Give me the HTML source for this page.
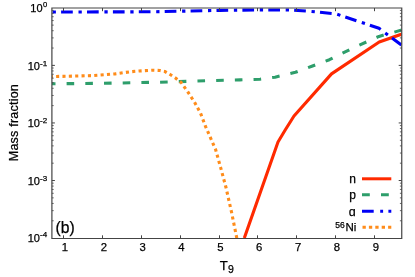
<!DOCTYPE html>
<html><head><meta charset="utf-8">
<style>
html,body{margin:0;padding:0;background:#fff;}
svg{display:block;will-change:transform;}
text{font-family:"Liberation Sans",sans-serif;fill:#000;stroke:#000;stroke-width:0.25px;}
</style></head><body>
<svg width="415" height="277" viewBox="0 0 415 277">
<rect width="415" height="277" fill="#fff"/>
<defs><clipPath id="c"><rect x="51.9" y="7.8" width="349.8" height="230.29999999999998"/></clipPath></defs>
<g fill="none" stroke-width="3.1" stroke-linejoin="round" clip-path="url(#c)">
<path d="M244.3,238.1 L278,142 L285.2,130 L294,116 L331.5,73.9 L379.2,42 L402,34" stroke="#ff2a00"/>
<path d="M51.9,83.8 L104,83.3 L160,82.2 L208,80.7 L240,79.9 L260,79.2 L275,77.2 L295.4,72.3 L311.8,66.2 L329.4,59.7 L355,47 L379,36.4 L402,30" stroke="#2e9e6b" stroke-dasharray="7.6 11.1" stroke-dashoffset="4"/>
<path d="M51.9,12 L150,11.8 L220,10.4 L258,9.9 L290,10 L311,11.4 L336,13.9 L379,28.3 L402,45.5" stroke="#0000f5" stroke-dasharray="11.7 5.7 3.3 5.2" stroke-dashoffset="16.7"/>
<path d="M51.9,76.6 L93.4,75.6 L115,73.9 L130,71.8 L139,71 L151.7,70.2 L160,70.5 L164.7,71.4 L170.1,74.5 L175.5,78 L181,82.3 L188.6,93 L195.1,103.2 L200.5,113.1 L205.6,126.6 L215.6,149.5 L220.8,168.2 L226,187.5 L231.6,212.5 L236.8,238.1" stroke="#ff8c1a" stroke-dasharray="3.1 3.262" stroke-dashoffset="2.16"/>
</g>

<g stroke="#444" stroke-width="1.2" fill="none">
<path d="M51.3,8 H402.35 M51.3,238.5 H402.35 M51.9,7.4 V239.1 M401.75,7.4 V239.1"/>
</g>
<g stroke="#444" stroke-width="1" fill="none">
<path d="M63.50,238.50 v-3.2 M63.50,8.00 v3.2"/>
<path d="M102.50,238.50 v-3.2 M102.50,8.00 v3.2"/>
<path d="M141.50,238.50 v-3.2 M141.50,8.00 v3.2"/>
<path d="M180.50,238.50 v-3.2 M180.50,8.00 v3.2"/>
<path d="M219.50,238.50 v-3.2 M219.50,8.00 v3.2"/>
<path d="M257.50,238.50 v-3.2 M257.50,8.00 v3.2"/>
<path d="M296.50,238.50 v-3.2 M296.50,8.00 v3.2"/>
<path d="M335.50,238.50 v-3.2 M335.50,8.00 v3.2"/>
<path d="M374.50,238.50 v-3.2 M374.50,8.00 v3.2"/>
<path d="M51.90,48.04 h1.8 M401.70,48.04 h-1.8" stroke-width="0.8"/>
<path d="M51.90,37.90 h1.8 M401.70,37.90 h-1.8" stroke-width="0.8"/>
<path d="M51.90,30.71 h1.8 M401.70,30.71 h-1.8" stroke-width="0.8"/>
<path d="M51.90,25.13 h1.8 M401.70,25.13 h-1.8" stroke-width="0.8"/>
<path d="M51.90,20.57 h1.8 M401.70,20.57 h-1.8" stroke-width="0.8"/>
<path d="M51.90,16.72 h1.8 M401.70,16.72 h-1.8" stroke-width="0.8"/>
<path d="M51.90,13.38 h1.8 M401.70,13.38 h-1.8" stroke-width="0.8"/>
<path d="M51.90,10.43 h1.8 M401.70,10.43 h-1.8" stroke-width="0.8"/>
<path d="M51.90,65.38 h3 M401.70,65.38 h-3"/>
<path d="M51.90,105.62 h1.8 M401.70,105.62 h-1.8" stroke-width="0.8"/>
<path d="M51.90,95.48 h1.8 M401.70,95.48 h-1.8" stroke-width="0.8"/>
<path d="M51.90,88.29 h1.8 M401.70,88.29 h-1.8" stroke-width="0.8"/>
<path d="M51.90,82.71 h1.8 M401.70,82.71 h-1.8" stroke-width="0.8"/>
<path d="M51.90,78.15 h1.8 M401.70,78.15 h-1.8" stroke-width="0.8"/>
<path d="M51.90,74.29 h1.8 M401.70,74.29 h-1.8" stroke-width="0.8"/>
<path d="M51.90,70.95 h1.8 M401.70,70.95 h-1.8" stroke-width="0.8"/>
<path d="M51.90,68.01 h1.8 M401.70,68.01 h-1.8" stroke-width="0.8"/>
<path d="M51.90,122.95 h3 M401.70,122.95 h-3"/>
<path d="M51.90,163.19 h1.8 M401.70,163.19 h-1.8" stroke-width="0.8"/>
<path d="M51.90,153.05 h1.8 M401.70,153.05 h-1.8" stroke-width="0.8"/>
<path d="M51.90,145.86 h1.8 M401.70,145.86 h-1.8" stroke-width="0.8"/>
<path d="M51.90,140.28 h1.8 M401.70,140.28 h-1.8" stroke-width="0.8"/>
<path d="M51.90,135.72 h1.8 M401.70,135.72 h-1.8" stroke-width="0.8"/>
<path d="M51.90,131.87 h1.8 M401.70,131.87 h-1.8" stroke-width="0.8"/>
<path d="M51.90,128.53 h1.8 M401.70,128.53 h-1.8" stroke-width="0.8"/>
<path d="M51.90,125.58 h1.8 M401.70,125.58 h-1.8" stroke-width="0.8"/>
<path d="M51.90,180.53 h3 M401.70,180.53 h-3"/>
<path d="M51.90,220.77 h1.8 M401.70,220.77 h-1.8" stroke-width="0.8"/>
<path d="M51.90,210.63 h1.8 M401.70,210.63 h-1.8" stroke-width="0.8"/>
<path d="M51.90,203.44 h1.8 M401.70,203.44 h-1.8" stroke-width="0.8"/>
<path d="M51.90,197.86 h1.8 M401.70,197.86 h-1.8" stroke-width="0.8"/>
<path d="M51.90,193.30 h1.8 M401.70,193.30 h-1.8" stroke-width="0.8"/>
<path d="M51.90,189.44 h1.8 M401.70,189.44 h-1.8" stroke-width="0.8"/>
<path d="M51.90,186.10 h1.8 M401.70,186.10 h-1.8" stroke-width="0.8"/>
<path d="M51.90,183.16 h1.8 M401.70,183.16 h-1.8" stroke-width="0.8"/>
</g>
<g font-size="11.3" text-anchor="middle">
<text x="64.94" y="250.55">1</text>
<text x="103.80" y="250.55">2</text>
<text x="142.65" y="250.55">3</text>
<text x="181.51" y="250.55">4</text>
<text x="220.37" y="250.55">5</text>
<text x="259.23" y="250.55">6</text>
<text x="298.08" y="250.55">7</text>
<text x="336.94" y="250.55">8</text>
<text x="375.80" y="250.55">9</text>
</g>
<text x="42.6" y="12.30" font-size="11" text-anchor="end">10</text><text x="47.2" y="6.90" font-size="7.6" text-anchor="end">0</text>
<text x="40.0" y="69.78" font-size="11" text-anchor="end">10</text><text x="47.1" y="66.28" font-size="8" text-anchor="end">-1</text>
<text x="40.0" y="127.15" font-size="11" text-anchor="end">10</text><text x="47.1" y="123.35" font-size="8" text-anchor="end">-2</text>
<text x="40.0" y="184.93" font-size="11" text-anchor="end">10</text><text x="47.1" y="180.93" font-size="8" text-anchor="end">-3</text>
<text x="40.0" y="242.30" font-size="11" text-anchor="end">10</text><text x="47.1" y="237.20" font-size="8" text-anchor="end">-4</text>
<text x="55.5" y="232.8" font-size="17" textLength="19.2" lengthAdjust="spacingAndGlyphs">(b)</text>
<text x="219.7" y="269.6" font-size="13.1">T</text><text x="228" y="272.5" font-size="10.5">9</text>
<text transform="translate(17.5,161.2) rotate(-90)" font-size="12.5" textLength="77" lengthAdjust="spacing">Mass fraction</text>
<g font-size="11.5" text-anchor="end">
<text x="355.9" y="183.3" font-size="12">n</text>
<text x="355.9" y="199.3" font-size="12">p</text>
<text x="355.8" y="215.7" font-size="12.5">ɑ</text>
<text x="356.3" y="231.2">Ni</text><text x="344.7" y="227.9" font-size="8.5">56</text>
</g>
<g fill="none" stroke-width="3.0">
<path d="M362,178.8 H391.3" stroke="#ff2a00"/>
<path d="M362,194.8 H391.3" stroke="#2e9e6b" stroke-dasharray="7.8 11.2"/>
<path d="M362,211.2 H391.3" stroke="#0000f5" stroke-dasharray="11.7 6.5 2.9 5.3 2.9 9"/>
<path d="M362.5,227.2 H391.3" stroke="#ff8c1a" stroke-dasharray="3.3 3.1"/>
</g>

</svg>
</body></html>
